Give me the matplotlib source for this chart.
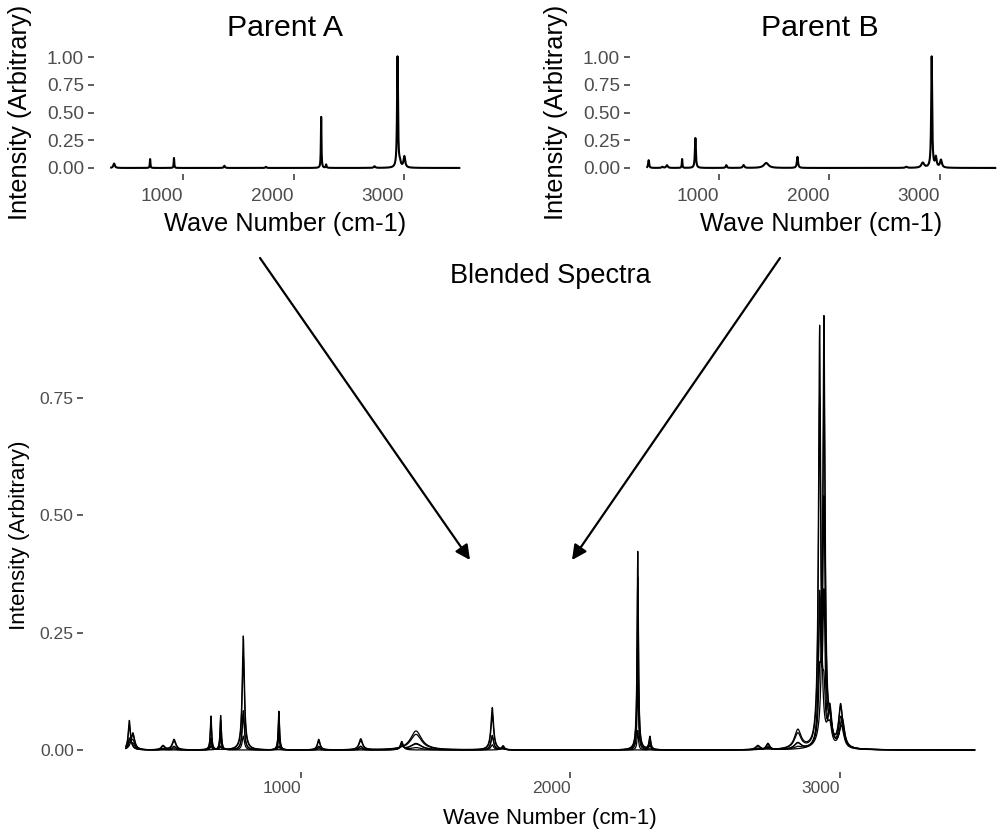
import numpy as np
import matplotlib
matplotlib.use("Agg")
import matplotlib.pyplot as plt
from matplotlib.patches import FancyArrowPatch

plt.rcParams['font.family'] = ['Liberation Sans', 'DejaVu Sans']

# ---- data ----
wave_start, wave_end = 350, 3500

# Parent A peaks: position (cm-1), height, half width
parentA_pos = [376, 702, 918, 1374, 1750, 2250, 2295, 2733, 2941, 2963, 3003]
parentA_hgt = [0.04, 0.08, 0.09, 0.02, 0.01, 0.46, 0.03, 0.015, 1.00, 0.04, 0.10]
parentA_wid = [8, 3, 3, 6, 6, 3, 4, 8, 5, 8, 9]

# Parent B peaks
parentB_pos = [363, 488, 529, 666, 786, 1066, 1222, 1427, 1710, 2696, 2844, 2925, 2963, 3009]
parentB_hgt = [0.07, 0.01, 0.025, 0.08, 0.27, 0.025, 0.026, 0.045, 0.10, 0.01, 0.045, 1.00, 0.09, 0.07]
parentB_wid = [5, 8, 8, 3, 5, 6, 8, 25, 6, 10, 15, 5, 8, 10]

# Blend weights of the blended spectra
blend_wA = [0.92, 0.00, 0.80, 0.09, 0.51, 0.31]
blend_wB = [0.00, 0.90, 0.11, 0.74, 0.28, 0.31]

x_ticks = [1000, 2000, 3000]
x_tick_labels = ["1000", "2000", "3000"]
inset_y_ticks = [0.0, 0.25, 0.5, 0.75, 1.0]
main_y_ticks = [0.0, 0.25, 0.5, 0.75]


def spectrum(x, pos, hgt, wid):
    y = np.zeros_like(x, dtype=float)
    for p, h, w in zip(pos, hgt, wid):
        y += h / (1.0 + ((x - p) / w) ** 2)
    return y


wave = np.arange(wave_start, wave_end + 1, 1.0)
specA = spectrum(wave, parentA_pos, parentA_hgt, parentA_wid)
specB = spectrum(wave, parentB_pos, parentB_hgt, parentB_wid)

W, H = 1003, 833
fig = plt.figure(figsize=(W / 100, H / 100), dpi=100)
fig.patch.set_facecolor('white')


def px_axes(l, t, r, b):
    return fig.add_axes([l / W, 1 - b / H, (r - l) / W, (b - t) / H])


TICKC = '#4D4D4D'
xr = wave_end - wave_start
xlim = (wave_start - 0.05 * xr, wave_end + 0.05 * xr)


def style(ax, tick_fs, label_fs, yticks, ylab_pad, xlab_pad, xtick_pad):
    for s in ax.spines.values():
        s.set_visible(False)
    ax.set_xlim(*xlim)
    ax.set_xticks(x_ticks)
    ax.set_xticklabels(x_tick_labels, ha='right')
    ax.set_yticks(yticks)
    ax.set_yticklabels([f"{v:.2f}" for v in yticks])
    ax.tick_params(axis='both', length=4, width=1.1, color='#333333',
                   labelcolor=TICKC, labelsize=tick_fs, pad=3)
    ax.tick_params(axis='x', pad=xtick_pad)
    ax.set_xlabel("Wave Number (cm-1)", fontsize=label_fs, labelpad=xlab_pad)
    ax.set_ylabel("Intensity (Arbitrary)", fontsize=label_fs, labelpad=ylab_pad)
    ax.patch.set_alpha(0)


# Parent A inset
axA = px_axes(93.8, 51.5, 476.7, 173.5)
axA.plot(wave, specA, color='black', lw=1.5)
axA.set_ylim(-0.05, 1.05)
style(axA, 13.7, 18.3, inset_y_ticks, 11, 5, 6.5)
axA.set_title("Parent A", fontsize=21.8, pad=11)

# Parent B inset
axB = px_axes(629.8, 51.5, 1012.6, 173.5)
axB.plot(wave, specB, color='black', lw=1.5)
axB.set_ylim(-0.05, 1.05)
style(axB, 13.7, 18.3, inset_y_ticks, 11, 5, 6.5)
axB.set_title("Parent B", fontsize=21.8, pad=11)
axB.title.set_position((0.4975, 1.0))

# Main blended spectra
axM = px_axes(83.4, 298.3, 1017.0, 771.6)
for wa, wb in zip(blend_wA, blend_wB):
    axM.plot(wave, wa * specA + wb * specB, color='black', lw=0.9)
axM.set_ylim(-0.046, 0.963)
style(axM, 12.6, 16.1, main_y_ticks, 7, 8.5, 3)
axM.set_title("Blended Spectra", fontsize=19.5, pad=11)

# Arrows
for (x0, y0), (x1, y1) in [((260, 258), (470, 560)), ((780, 258), (572, 560))]:
    arr = FancyArrowPatch((x0 / W, 1 - y0 / H), (x1 / W, 1 - y1 / H),
                          transform=fig.transFigure, arrowstyle='-|>',
                          mutation_scale=22, lw=1.6, color='black',
                          shrinkA=0, shrinkB=0)
    fig.add_artist(arr)

fig.savefig("out.png", dpi=100, facecolor='white')
